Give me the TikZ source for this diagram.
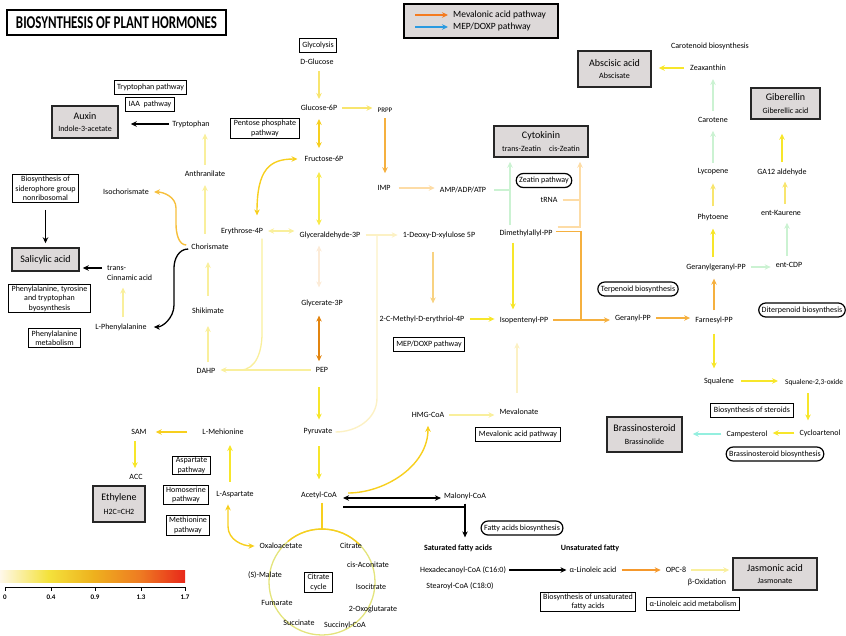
\documentclass[tikz,border=0pt]{standalone}
\usepackage{graphicx}
\usepackage{fontspec}
\setmainfont{Carlito}
\usetikzlibrary{arrows.meta}

\definecolor{hgray}{HTML}{DDD9D9}
\definecolor{cyY}{HTML}{F7E62A}
\definecolor{cyM}{HTML}{F8E56E}
\definecolor{cyP}{HTML}{F9EF9C}
\definecolor{cyV}{HTML}{FCF1C4}
\definecolor{cGold}{HTML}{F7CF1E}
\definecolor{cGoldO}{HTML}{F6BF3C}
\definecolor{cOr}{HTML}{F5B03F}
\definecolor{cOrL}{HTML}{F8D281}
\definecolor{cOrD}{HTML}{E2840F}
\definecolor{cPeach}{HTML}{FDDCA6}
\definecolor{cCream}{HTML}{FCEBD7}
\definecolor{cGr}{HTML}{CBF2D2}
\definecolor{cAq}{HTML}{94EFDF}
\definecolor{cOrJ}{HTML}{F5982C}
\definecolor{cCyc}{HTML}{E3E47C}
\definecolor{legor}{HTML}{F47B20}
\definecolor{legblue}{HTML}{2A9AE0}
\definecolor{barA}{HTML}{FFF8EA}
\definecolor{barY}{HTML}{F4E23C}
\definecolor{barO}{HTML}{EEB21E}
\definecolor{barOR}{HTML}{EE7A22}
\definecolor{barR}{HTML}{E8281A}

\pgfdeclarehorizontalshading{heatbar}{100bp}{color(0bp)=(barA); color(25bp)=(barA); color(38bp)=(barY); color(50bp)=(barO); color(63bp)=(barOR); color(75bp)=(barR); color(100bp)=(barR)}

\newcommand{\subfont}{\fontsize{8}{9.5}\selectfont}

\begin{document}
\begin{tikzpicture}[x=1pt, y=-1pt, >={Stealth[length=6pt,width=5.5pt]},
	metab/.style={font=\subfont, inner xsep=3pt, inner ysep=4pt},
	pathbox/.style={draw, line width=1pt, font=\subfont, align=center, inner xsep=3pt, inner ysep=1.5pt, minimum height=14pt},
	roundbox/.style={pathbox, rounded corners=7pt, line width=1.2pt},
	hormone/.style={draw=black!85, line width=1.5pt, fill=hgray, align=center, inner sep=0pt, font=\fontsize{10}{12.5}\selectfont},
	flow/.style={line width=1.4pt, shorten <=2pt, shorten >=2pt}]

			\useasboundingbox (0,0) rectangle (846,635);

			\node[draw, line width=1.3pt, minimum width=219pt, minimum height=25pt, inner sep=0pt] (title) at (116.5,22.5) {\scalebox{0.72}[1]{\fontsize{18}{20}\selectfont\bfseries BIOSYNTHESIS OF PLANT HORMONES}};

			\node[draw, line width=1.3pt, fill=hgray, minimum width=154pt, minimum height=34pt] (legend) at (481,21) {};
			\node[anchor=west, inner sep=3pt, font=\fontsize{9.5}{11}\selectfont] (lgmva) at (450,15) {Mevalonic acid pathway};
			\node[anchor=west, inner sep=3pt, font=\fontsize{9.5}{11}\selectfont] (lgmep) at (450,27) {MEP/DOXP pathway};
			\coordinate (lgo) at (415,15);
			\coordinate (lgb) at (415,27);
			\draw[legor, line width=1.4pt, ->, shorten >=2pt] (lgo) -- (lgmva.west);
			\draw[legblue, line width=1.4pt, ->, shorten >=2pt] (lgb) -- (lgmep.west);

			\node[pathbox] (trppw) at (150.5,87.5) {Tryptophan pathway};
			\node[pathbox] (iaapw) at (150,104.5) {IAA\ \ pathway};
			\node[hormone, minimum width=66pt, minimum height=32pt] (auxin) at (85,122) {Auxin\\{\subfont Indole-3-acetate}};
			\node[metab] (trp) at (191,124) {Tryptophan};
			\node[pathbox] (ppp) at (265,128.5) {Pentose phosphate\\pathway};
			\node[pathbox] (sidero) at (45.5,188.5) {Biosynthesis of\\siderophore group\\nonribosomal};
			\node[metab] (anth) at (205,174) {Anthranilate};
			\node[metab] (isoch) at (126,192) {Isochorismate};
			\node[hormone, minimum width=67pt, minimum height=23pt] (salic) at (45.5,259.5) {Salicylic acid};
			\node[metab] (chor) at (210,247) {Chorismate};
			\node[metab, anchor=west, align=left] (cinn) at (104,273) {trans-\\Cinnamic acid};
			\node[pathbox] (pttb) at (49.5,298.5) {Phenylalanine, tyrosine\\and tryptophan\\byosynthesis};
			\node[metab] (shik) at (208,311) {Shikimate};
			\node[metab] (phe) at (121,327) {L-Phenylalanine};
			\node[pathbox] (phemet) at (54.5,338) {Phenylalanine\\metabolism};
			\node[metab] (dahp) at (206,371) {DAHP};

			\node[pathbox] (glyc) at (318,45) {Glycolysis};
			\node[metab] (glc) at (317,62) {D-Glucose};
			\node[metab] (g6p) at (319,108) {Glucose-6P};
			\node[metab, font=\fontsize{7}{8}\selectfont] (prpp) at (385,110) {PRPP};
			\node[metab] (f6p) at (324,159) {Fructose-6P};
			\node[metab] (imp) at (384,188) {IMP};
			\node[metab] (amp) at (463,190) {AMP/ADP/ATP};
			\node[metab] (e4p) at (242,231) {Erythrose-4P};
			\node[metab] (gap) at (330,235) {Glyceraldehyde-3P};
			\node[metab] (dxp) at (439,235) {1-Deoxy-D-xylulose 5P};
			\node[metab] (g3p) at (322,303) {Glycerate-3P};
			\node[metab] (mep) at (422,319) {2-C-Methyl-D-erythriol-4P};
			\node[pathbox] (mepbox) at (429,344.5) {MEP/DOXP pathway};
			\node[metab] (pep) at (322,370) {PEP};
			\node[metab] (hmg) at (428,415) {HMG-CoA};
			\node[metab] (mev) at (519,412) {Mevalonate};
			\node[pathbox] (mvabox) at (518,434) {Mevalonic acid pathway};
			\node[metab] (pyr) at (318,432) {Pyruvate};
			\node[metab] (acoa) at (319,495) {Acetyl-CoA};
			\node[metab] (mal) at (465,496) {Malonyl-CoA};
			\node[roundbox] (fabio) at (522,528) {Fatty acids biosynthesis};
			\node[metab, font=\subfont\bfseries] (satfa) at (458,548) {Saturated fatty acids};
			\node[metab, font=\subfont\bfseries] (unsat) at (590,548) {Unsaturated fatty};
			\node[metab] (hexa) at (463,570) {Hexadecanoyl-CoA (C16:0)};
			\node[metab] (stea) at (460,586) {Stearoyl-CoA (C18:0)};
			\node[metab] (lin) at (593,570) {α-Linoleic acid};
			\node[metab] (opc) at (676,570) {OPC-8};
			\node[metab] (boxid) at (707,582) {β-Oxidation};
			\node[hormone, minimum width=84pt, minimum height=32pt] (jasm) at (775,574) {Jasmonic acid\\{\subfont Jasmonate}};
			\node[pathbox] (unsatbio) at (588,602) {Biosynthesis of unsaturated\\fatty acids};
			\node[pathbox, minimum height=13pt] (linmet) at (693,604) {α-Linoleic acid metabolism};

			\node[hormone, minimum width=94pt, minimum height=31pt] (cyto) at (541,141.5) {Cytokinin\\{\subfont trans-Zeatin\quad cis-Zeatin}};
			\node[roundbox] (zeatpw) at (544,180.5) {Zeatin pathway};
			\node[metab] (trna) at (549,200) {tRNA};
			\node[metab] (dmapp) at (526,233) {Dimethylallyl-PP};
			\node[metab] (ipp) at (524,320) {Isopentenyl-PP};
			\node[roundbox] (terp) at (638,289) {Terpenoid biosynthesis};
			\node[metab] (gpp) at (633,318) {Geranyl-PP};

			\node[metab] (carbio) at (710,46) {Carotenoid biosynthesis};
			\node[hormone, minimum width=73pt, minimum height=36pt] (absc) at (614.5,69) {Abscisic acid\\{\subfont Abscisate}};
			\node[metab] (zea) at (708,68) {Zeaxanthin};
			\node[hormone, minimum width=69pt, minimum height=31pt] (gib) at (785.5,103.5) {Giberellin\\{\subfont Giberellic acid}};
			\node[metab] (car) at (713,120) {Carotene};
			\node[metab] (lyc) at (713,172) {Lycopene};
			\node[metab] (ga12) at (782,172) {GA12 aldehyde};
			\node[metab] (phyt) at (713,217) {Phytoene};
			\node[metab] (kaur) at (781,213) {ent-Kaurene};
			\node[metab] (ggpp) at (716,267) {Geranylgeranyl-PP};
			\node[metab] (cdp) at (789,265) {ent-CDP};
			\node[roundbox] (diterp) at (802,310) {Diterpenoid biosynthesis};
			\node[metab] (fpp) at (714,320) {Farnesyl-PP};
			\node[metab] (sq) at (719,381) {Squalene};
			\node[metab, anchor=west, inner xsep=2pt, font=\fontsize{7.4}{8.5}\selectfont] (sqo) at (783,383) {Squalene-2,3-oxide};
			\node[pathbox] (steroid) at (752,410.5) {Biosynthesis of steroids};
			\node[hormone, minimum width=75pt, minimum height=35pt] (bras) at (644.5,434.5) {Brassinosteroid\\{\subfont Brassinolide}};
			\node[metab] (camp) at (747,434) {Campesterol};
			\node[metab] (cyc) at (820,433) {Cycloartenol};
			\node[roundbox] (brbio) at (775,454) {Brassinosteroid biosynthesis};

			\node[metab] (sam) at (139,432) {SAM};
			\node[metab] (lmet) at (223,432) {L-Mehionine};
			\node[pathbox] (aspw) at (191.5,465.5) {Aspartate\\pathway};
			\node[metab] (acc) at (136,477) {ACC};
			\node[hormone, minimum width=52pt, minimum height=36pt] (ethyl) at (119,504) {Ethylene\\[2pt]{\subfont H2C=CH2}};
			\node[pathbox] (homw) at (186,495) {Homoserine\\pathway};
			\node[metab] (asp) at (235,495) {L-Aspartate};
			\node[pathbox] (methw) at (188,525.5) {Methionine\\pathway};

			\node[circle, draw=cCyc, line width=1.3pt, minimum size=106pt, inner sep=0pt, outer sep=0pt] (krebs) at (322,582) {};
			\draw[cGold, line width=1.4pt] (krebs.130) arc[start angle=130, end angle=45, radius=53pt];
			\node[pathbox] (tca) at (318.5,582.5) {Citrate\\cycle};
			\node[metab] (oaa) at (281,546) {Oxaloacetate};
			\node[metab] (cit) at (351,546) {Citrate};
			\node[metab] (acon) at (368,565) {cis-Aconitate};
			\node[metab] (icit) at (371,587) {Isocitrate};
			\node[metab] (oxo) at (373,609) {2-Oxoglutarate};
			\node[metab] (succoa) at (345,625) {Succinyl-CoA};
			\node[metab] (succ) at (299,623) {Succinate};
			\node[metab] (fum) at (277,603) {Fumarate};
			\node[metab] (mala) at (265,575) {(S)-Malate};

			\draw[flow, cyM, ->] (glc.south -| g6p) -- (g6p.north);
			\draw[flow, cyM, ->] (g6p.east) -- (g6p.east -| prpp.west);
			\draw[flow, cGold, <->, shorten <=4pt, shorten >=4pt] (g6p.south) -- (g6p.south |- f6p.north);
			\draw[flow, cyY!85!white, <->, shorten <=6pt] (f6p.south -| g6p) -- (g6p |- gap.north);
			\draw[flow, cOr, ->, shorten >=8pt] (prpp.south) -- (prpp.south |- imp.north);
			\draw[flow, cPeach, ->, shorten <=5pt] (imp.east) -- (imp.east -| amp.west);
			\draw[flow, cGold, <->, shorten >=4pt] ([xshift=15pt,yshift=6pt]e4p.north) .. controls +(0,-48) and +(-32,0) .. (f6p.west);
			\draw[flow, cyP, <->] (e4p.east) -- (e4p.east -| gap.west);
			\draw[flow, cCream, <->, shorten <=3pt, shorten >=8pt] (gap.south -| g6p) -- (g6p |- g3p.north);
			\draw[flow, cOrD, <->, shorten <=5pt] (g3p.south -| g6p) -- (g6p |- pep.north);
			\draw[flow, cyY, ->, shorten <=10pt, shorten >=5pt] (pep.south -| g6p) -- (g6p |- pyr.north);
			\draw[flow, cyY, ->, shorten <=7pt, shorten >=8pt] (pyr.south -| g6p) -- (g6p |- acoa.north);

			\coordinate (dj) at (240,370);
			\draw[flow, cyP, ->] (pep.west) -- (pep.west -| dahp.east);
			\draw[line width=1.3pt, cyP] ([xshift=20pt]e4p.south) -- ++(0,95) to[out=-90, in=0] (dj);

			\coordinate (gj) at (377,235);
			\draw[flow, cyV, ->] (gap.east) -- (gap.east -| dxp.west);
			\draw[line width=1.4pt, cyV] (gj) -- (377,398) to[out=-90, in=0] (pyr.east);
			\draw[flow, cOrL, ->, shorten <=9pt, shorten >=8pt] ([xshift=-6pt]dxp.south) -- ([xshift=-6pt]dxp.south |- mep.north);
			\draw[flow, cyY, ->] (mep.east) -- (mep.east -| ipp.west);
			\draw[flow, cyY, ->, shorten >=3pt] ([xshift=-13pt]dmapp.south) -- ([xshift=-13pt]dmapp.south |- ipp.north);
			\draw[flow, cyV, ->, shorten <=12pt, shorten >=15pt] ([xshift=-2pt]mev.north) -- ([xshift=-2pt]mev.north |- ipp.south);
			\draw[flow, cyP, ->] (hmg.east) -- (hmg.east -| mev.west);
			\draw[flow, cGold, ->, shorten <=8pt, shorten >=4pt] ([yshift=2pt]acoa.east) to[out=0, in=-90] (hmg.south);

			\draw[line width=1.2pt, <->, shorten <=3pt] ([yshift=-3pt]acoa.east) -- ([yshift=-3pt]acoa.east -| mal.west);
			\draw[line width=1.2pt, ->, shorten >=3pt] (mal.south) -- (mal.south |- satfa.north);
			\draw[line width=1.2pt, shorten <=3pt] ([yshift=-12pt]acoa.east) -- ([yshift=-12pt]acoa.east -| mal.south);
			\draw[line width=1.4pt, cGold] (acoa.south -| krebs) -- (krebs.north);

			\draw[flow, cGold, <->] ([xshift=-7pt]asp.south) -- ++(0,24) to[out=-90, in=180] (oaa.west);
			\draw[flow, cyY, ->, shorten <=6pt, shorten >=6pt] ([xshift=-5pt]asp.north) -- ([xshift=-5pt]asp.north |- lmet.south);
			\draw[flow, cGold, ->, shorten <=12pt, shorten >=6pt] (lmet.west) -- (lmet.west -| sam.east);
			\draw[flow, cyY, ->] ([xshift=-4pt]sam.south) -- ([xshift=-4pt]sam.south |- acc.north);

			\draw[line width=1.3pt, ->, shorten >=12pt] (trp.west) -- (trp.west -| auxin.east);
			\draw[flow, cyP, ->] (anth.north) -- (anth.north |- trp.south);
			\draw[flow, cyP, ->, shorten <=6pt, shorten >=4pt] (chor.north -| anth) -- (anth.south);
			\draw[flow, cyP, ->, shorten <=8pt, shorten >=8pt] (shik.north) -- (shik.north |- chor.south);
			\draw[flow, cyP, ->, shorten >=8pt] (dahp.north -| shik) -- (shik.south);
			\draw[flow, cGoldO, ->] ([yshift=2pt]chor.west) to[out=180, in=-90] (176,224) -- (176,208) to[out=90, in=0] (isoch.east);
			\draw[line width=1.3pt, ->, shorten >=4pt] ([yshift=-2pt]chor.west) to[out=180, in=90] (174,268) -- (174,305) to[out=-90, in=0] (phe.east);
			\draw[flow, cyP, ->, shorten >=3pt] ([xshift=2pt]phe.north) -- ([xshift=2pt]phe.north |- cinn.south);
			\draw[line width=1.3pt, ->, shorten <=2pt, shorten >=3pt] ([yshift=5pt]cinn.west) -- ([yshift=5pt]cinn.west -| salic.east);
			\draw[line width=1.3pt, ->, shorten <=7pt, shorten >=4pt] (sidero.south) -- (sidero.south |- salic.north);

			\coordinate (tz) at ([xshift=-31pt]cyto.south);
			\coordinate (zc) at ([xshift=39pt]cyto.south);
			\coordinate (gj2) at (581,320);
			\draw[flow, cGr, ->, shorten <=0pt, shorten >=4pt] (dmapp.north -| tz) -- (tz);
			\draw[flow, cGr, shorten <=5pt, shorten >=0pt] (amp.east) -- (amp.east -| tz);
			\draw[flow, cPeach, ->, shorten >=4pt] ([yshift=6pt]dmapp.east) -| (zc);
			\draw[flow, cPeach, shorten >=0pt] (trna.east) -- (trna.east -| zc);
			\draw[line width=1.6pt, cOr] ([yshift=1.5pt]dmapp.east) -| (gj2);
			\draw[flow, cOr, ->] (ipp.east) -- (ipp.east -| gpp.west);

			\draw[flow, cOr, ->] (gpp.east) -- (gpp.east -| fpp.west);
			\draw[flow, cOr, ->, shorten >=4pt] (fpp.north) -- (fpp.north |- ggpp.south);
			\draw[flow, cyY, ->, shorten <=6pt, shorten >=5pt] (fpp.south) -- (fpp.south |- sq.north);
			\draw[flow, cyY, ->, shorten <=4pt, shorten >=5pt] (sq.east) -- (sq.east -| sqo.west);
			\draw[flow, cyY, ->, shorten <=3pt, shorten >=5pt] ([xshift=-12pt]cyc.north |- sqo.south) -- ([xshift=-12pt]cyc.north);
			\draw[flow, cyY, ->] (cyc.west) -- (cyc.west -| camp.east);
			\draw[flow, cAq, ->, shorten >=10pt] (camp.west) -- (camp.west -| bras.east);
			\draw[flow, cyY, ->, shorten >=4pt] (ggpp.north -| phyt) -- (phyt.south);
			\draw[flow, cyM, ->, shorten <=3pt, shorten >=4pt] (phyt.north) -- (lyc.south);
			\draw[flow, cGr, ->, shorten >=4pt] (lyc.north) -- (car.south);
			\draw[flow, cGr, ->, shorten >=4pt] (car.north) -- (car.north |- zea.south);
			\draw[flow, cyY, ->, shorten <=3pt, shorten >=7pt] (zea.west) -- (zea.west -| absc.east);
			\draw[flow, cGr, ->] (ggpp.east) -- (ggpp.east -| cdp.west);
			\draw[flow, cGr, ->, shorten >=3pt] ([xshift=-2pt]cdp.north) -- ([xshift=-2pt]cdp.north |- kaur.south);
			\draw[flow, cyM, ->] ([xshift=4pt]kaur.north) -- ([xshift=4pt]kaur.north |- ga12.south);
			\draw[flow, cyY, ->, shorten >=14pt] (ga12.north) -- (ga12.north |- gib.south);

			\draw[line width=1.2pt, ->] (hexa.east) -- (hexa.east -| lin.west);
			\draw[flow, cOrJ, ->] (lin.east) -- (lin.east -| opc.west);
			\draw[flow, cyP, ->, shorten >=3pt] (opc.east) -- (opc.east -| jasm.west);

			\shade[shading=heatbar] (0,570) rectangle (185,582);
			\draw[line width=0.9pt] (5,587) -- (185,587);
			\foreach \x/\t in {5/0, 51/0.4, 95/0.9, 141/1.3, 185/1.7} {
				\draw[line width=0.8pt] (\x,587) -- (\x,591);
				\node[font=\fontsize{7}{8}\selectfont\bfseries] (tick\x) at (\x,597) {\t};
			}
		\end{tikzpicture}
\end{document}
